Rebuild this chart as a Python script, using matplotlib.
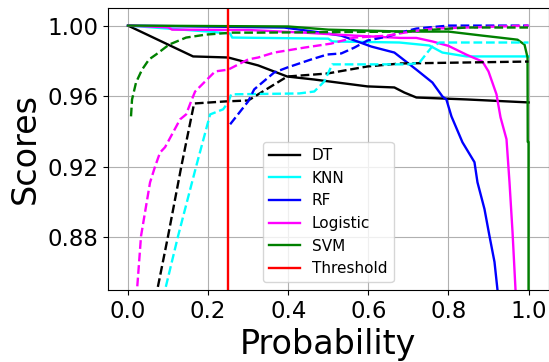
import matplotlib
matplotlib.use("Agg")
import matplotlib.pyplot as plt

# ---- data ----
dt_x = [0.0, 0.1625, 0.25, 0.325, 0.3975, 0.465, 0.5975, 0.665, 0.69, 0.72, 0.845, 1.0]
dt_y = [1.0, 0.9825, 0.9819, 0.9774, 0.9711, 0.9694, 0.9655, 0.9649, 0.9620, 0.9592, 0.9581, 0.9564]
dt2_x = [0.065, 0.073, 0.10, 0.133, 0.165, 0.245, 0.30, 0.3975, 0.4975, 0.5975, 0.68, 1.0]
dt2_y = [0.845, 0.85, 0.8806, 0.920, 0.9558, 0.9570, 0.9575, 0.9711, 0.9728, 0.9768, 0.9785, 0.9796]

knn_x = [0.0, 0.20, 0.255, 0.26, 0.50, 0.51, 0.6775, 0.7525, 0.785, 0.845, 1.0]
knn_y = [1.0, 0.9966, 0.9955, 0.9932, 0.9926, 0.991, 0.9904, 0.9887, 0.9847, 0.9825, 0.9825]
knn2_x = [0.085, 0.0925, 0.125, 0.17, 0.205, 0.2375, 0.25, 0.2575, 0.4275, 0.465, 0.49, 0.51, 0.70, 0.7275, 0.7575, 0.7775, 1.0]
knn2_y = [0.845, 0.85, 0.8806, 0.920, 0.9496, 0.9525, 0.9564, 0.961, 0.9615, 0.9626, 0.9683, 0.978, 0.978, 0.979, 0.9876, 0.9904, 0.9904]

rf_x = [0.0, 0.39, 0.4825, 0.5325, 0.5725, 0.6075, 0.665, 0.6775, 0.72, 0.76, 0.785, 0.795, 0.8075, 0.835, 0.865, 0.8725, 0.89, 0.9025, 0.915, 0.9225, 0.925]
rf_y = [1.0, 0.9989, 0.996, 0.9943, 0.991, 0.9881, 0.9847, 0.9825, 0.975, 0.9677, 0.9598, 0.958, 0.9485, 0.9338, 0.9225, 0.9111, 0.8959, 0.8806, 0.8659, 0.85, 0.845]
rf2_x = [0.255, 0.30, 0.315, 0.365, 0.3975, 0.4575, 0.4975, 0.5325, 0.565, 0.5975, 0.6475, 0.69, 0.72, 0.80, 1.0]
rf2_y = [0.944, 0.957, 0.9638, 0.9734, 0.9762, 0.9808, 0.9836, 0.9842, 0.9875, 0.9915, 0.9938, 0.9966, 0.9983, 1.0, 1.0]

log_x = [0.0, 0.10, 0.11, 0.30, 0.44, 0.55, 0.68, 0.72, 0.76, 0.80, 0.845, 0.885, 0.90, 0.92, 0.93, 0.945, 0.9525, 0.96, 0.9675, 0.969]
log_y = [1.0, 0.999, 0.9977, 0.9975, 0.996, 0.9945, 0.993, 0.993, 0.991, 0.9885, 0.9835, 0.9796, 0.974, 0.961, 0.948, 0.9355, 0.911, 0.883, 0.85, 0.845]
log2_x = [0.02, 0.0225, 0.0325, 0.055, 0.0675, 0.08, 0.0925, 0.1125, 0.13, 0.145, 0.1575, 0.1675, 0.1925, 0.2175, 0.25, 0.30, 0.325, 0.365, 0.3975, 0.44, 0.5075, 0.565, 0.6475, 0.69, 0.76, 0.845, 1.0]
log2_y = [0.845, 0.85, 0.8806, 0.911, 0.920, 0.928, 0.931, 0.9394, 0.9468, 0.9496, 0.957, 0.9626, 0.9683, 0.974, 0.975, 0.9808, 0.9819, 0.9847, 0.9859, 0.9875, 0.9898, 0.9932, 0.9943, 0.996, 0.9983, 0.9989, 1.0]

svm_x = [0.0, 0.40, 0.50, 0.69, 0.80, 0.885, 0.9275, 0.9725, 0.99, 0.9975, 0.998, 1.0, 1.0]
svm_y = [1.0, 0.9995, 0.9977, 0.9966, 0.9966, 0.9943, 0.9932, 0.992, 0.9892, 0.9819, 0.934, 0.934, 0.845]
svm2_x = [0.0075, 0.01, 0.02, 0.035, 0.0525, 0.07, 0.1025, 0.145, 0.195, 0.26, 0.325, 0.69, 0.845, 1.0]
svm2_y = [0.9485, 0.958, 0.9677, 0.975, 0.9808, 0.9836, 0.9892, 0.9932, 0.9949, 0.996, 0.996, 0.9966, 0.9989, 0.9989]

threshold = 0.25
labels = ["DT", "KNN", "RF", "Logistic", "SVM", "Threshold"]
colors = ["black", "cyan", "blue", "magenta", "green", "red"]
x_ticks = [0.0, 0.2, 0.4, 0.6, 0.8, 1.0]
y_ticks = [0.88, 0.92, 0.96, 1.00]

# ---- plot ----
fig = plt.figure(figsize=(5.49, 3.62), dpi=100)
ax = fig.add_axes([0.1967, 0.199, 0.8025, 0.779])

solid = [(dt_x, dt_y), (knn_x, knn_y), (rf_x, rf_y), (log_x, log_y), (svm_x, svm_y)]
dashed = [(dt2_x, dt2_y), (knn2_x, knn2_y), (rf2_x, rf2_y), (log2_x, log2_y), (svm2_x, svm2_y)]
for (xs, ys), lab, c in zip(solid, labels, colors):
    ax.plot(xs, ys, color=c, lw=1.7, label=lab)
for (xs, ys), c in zip(dashed, colors):
    ax.plot(xs, ys, color=c, lw=1.7, ls="--")
ax.axvline(threshold, color="red", lw=1.7, label="Threshold")

ax.set_xlim(-0.05, 1.05)
ax.set_ylim(0.85, 1.01)
ax.set_xticks(x_ticks)
ax.set_yticks(y_ticks)
ax.set_xticklabels([f"{v:.1f}" for v in x_ticks])
ax.set_yticklabels([f"{v:.2f}" for v in y_ticks])
ax.tick_params(labelsize=16.5)
ax.grid(True, color="#b0b0b0", lw=0.8)
ax.set_axisbelow(True)
ax.set_xlabel("Probability", fontsize=24)
ax.set_ylabel("Scores", fontsize=24)
ax.legend(loc="lower center", fontsize=11)

fig.savefig("out.png", dpi=100)
